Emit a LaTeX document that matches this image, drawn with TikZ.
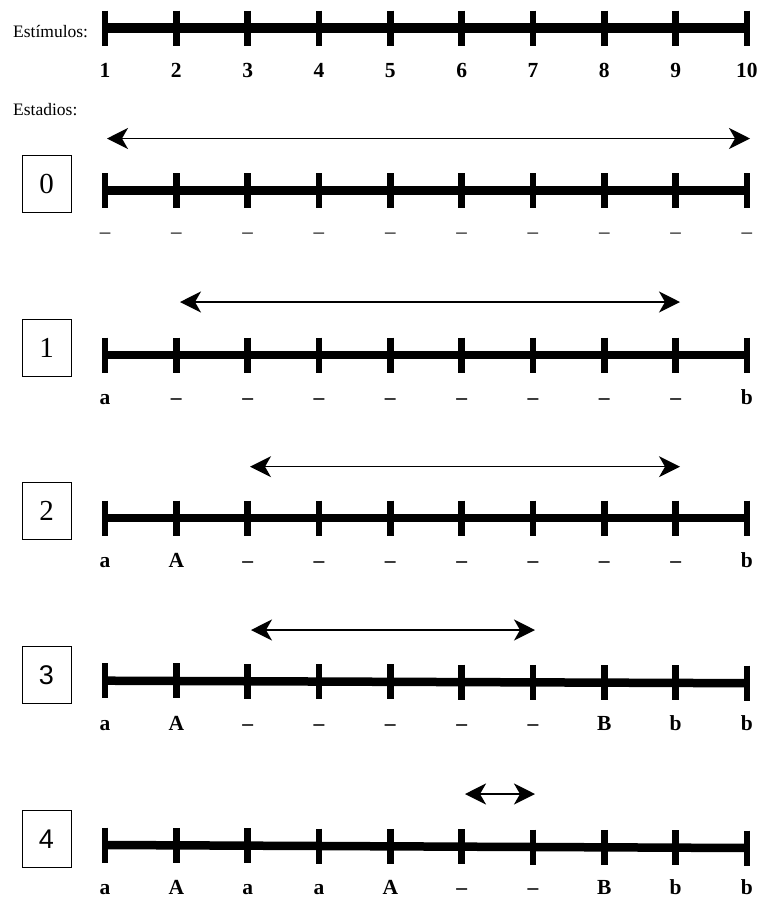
\documentclass[tikz,border=0pt]{standalone}
\usepackage{fontspec}
\setmainfont{Liberation Serif}
\newfontfamily\boxsans{Liberation Sans}
\usetikzlibrary{arrows.meta}
\begin{document}
\begin{tikzpicture}[x=1pt,y=-1pt,
  axisline/.style={line width=8.5pt},
  tickmark/.style={line width=6.5pt},
  span/.style={line width=1.4pt,{Stealth[length=21pt,width=21pt,inset=6pt]}-{Stealth[length=21pt,width=21pt,inset=6pt]}},
  lbl/.style={font=\fontsize{21.5}{24}\selectfont\bfseries, inner sep=0pt, anchor=base, text depth=0pt},
  stagebox/.style={draw,line width=1pt,minimum width=49pt,minimum height=57pt,inner sep=0pt,font=\fontsize{29}{30}\selectfont},
  caption/.style={font=\fontsize{17.5}{20}\selectfont,inner sep=0pt,anchor=base west}]
\useasboundingbox (0,0) rectangle (769,898);

% axes with ticks
\foreach \r/\y/\dy/\w in {t/28/0/10, 0/190.7/0/8.5, 1/355/0/8.5, 2/518/0/8.5, 3/680.7/2.5/8.5, 4/845/3/8.5} {
  \foreach \i in {1,...,10} {
    \coordinate (t\r-\i) at ({105+(\i-1)*71.33}, {\y+\dy*(\i-1)/9});
  }
  \coordinate (base\r) at ([yshift=-49.5pt]t\r-1);
  \draw[axisline,line width=\w pt] (t\r-1) -- (t\r-10);
  \foreach \i in {1,...,10} {
    \draw[tickmark] ([yshift=17.5pt]t\r-\i) -- ([yshift=-17.5pt]t\r-\i);
  }
}

% captions
\node[caption] (estim) at (13,37.7) {Estímulos:};
\node[caption] (estad) at (13,115) {Estadios:};

% labels
\foreach \lab [count=\i] in {1,2,3,4,5,6,7,8,9,10}
  \node[lbl] (lt-\i) at (tt-\i |- baset) {\lab};
\foreach \lab [count=\i] in {--,--,--,--,--,--,--,--,--,--}
  \node[lbl,font=\fontsize{21}{24}\selectfont] (l0-\i) at ([yshift=2pt]t0-\i |- base0) {\lab};
\foreach \lab [count=\i] in {a,--,--,--,--,--,--,--,--,b}
  \node[lbl] (l1-\i) at (t1-\i |- base1) {\lab};
\foreach \lab [count=\i] in {a,A,--,--,--,--,--,--,--,b}
  \node[lbl] (l2-\i) at (t2-\i |- base2) {\lab};
\foreach \lab [count=\i] in {a,A,--,--,--,--,--,B,b,b}
  \node[lbl] (l3-\i) at (t3-\i |- base3) {\lab};
\foreach \lab [count=\i] in {a,A,a,a,A,--,--,B,b,b}
  \node[lbl] (l4-\i) at (t4-\i |- base4) {\lab};

% stage boxes
\node[stagebox] (b0) at (46.5,184) {0};
\node[stagebox] (b1) at (46.5,348) {1};
\node[stagebox] (b2) at (46.5,511) {2};
\node[stagebox,font=\fontsize{27}{30}\selectfont\boxsans] (b3) at (46.5,675) {3};
\node[stagebox,font=\fontsize{27}{30}\selectfont\boxsans] (b4) at (46.5,839) {4};

% range arrows
\coordinate (a0l) at (107,138.5);  \coordinate (a0r) at (750,138.5);
\coordinate (a1l) at (180,302);    \coordinate (a1r) at (680,302);
\coordinate (a2l) at (250,466.7);  \coordinate (a2r) at (680,466.7);
\coordinate (a3l) at (251,630);    \coordinate (a3r) at (535,630);
\coordinate (a4l) at (465,794);    \coordinate (a4r) at (535,794);
\draw[span] (a0l) -- (a0r);
\draw[span] (a1l) -- (a1r);
\draw[span] (a2l) -- (a2r);
\draw[span] (a3l) -- (a3r);
\draw[span,line width=2.5pt] (a4l) -- (a4r);
\end{tikzpicture}
\end{document}
